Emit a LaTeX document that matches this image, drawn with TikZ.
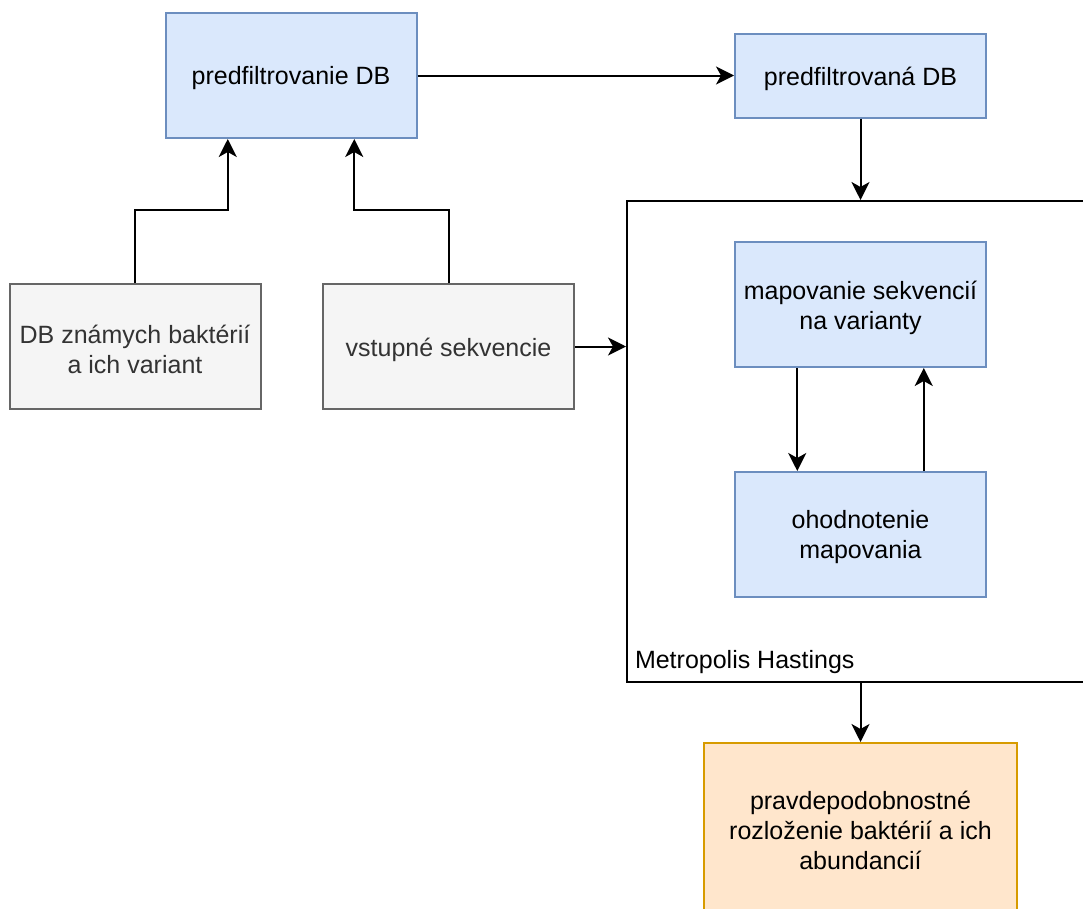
\documentclass[tikz,border=0pt]{standalone}
\usepackage{fontspec}
\setmainfont{Liberation Sans}
\usetikzlibrary{arrows.meta,calc}
\definecolor{bfill}{HTML}{DAE8FC}
\definecolor{bline}{HTML}{6C8EBF}
\definecolor{gfill}{HTML}{F5F5F5}
\definecolor{gline}{HTML}{666666}
\definecolor{gtext}{HTML}{333333}
\definecolor{ofill}{HTML}{FFE6CC}
\definecolor{oline}{HTML}{D79B00}
\tikzset{
  base/.style={rectangle, inner sep=0pt, line width=2pt, align=center,
    font=\fontsize{25}{30}\selectfont},
  txt/.style={align=center, inner sep=0pt, font=\fontsize{25}{30}\selectfont, yshift=-3pt},
  bluebox/.style={base, draw=bline, fill=bfill, minimum width=251pt, minimum height=125pt},
  graybox/.style={base, draw=gline, fill=gfill, text=gtext, minimum width=251pt, minimum height=125pt},
  orangebox/.style={base, draw=oline, fill=ofill, minimum width=313pt, minimum height=174pt},
  arr/.style={line width=2pt, -{Stealth[length=18pt,width=18pt,inset=5pt]}}
}
\begin{document}
\begin{tikzpicture}[x=1pt,y=-1pt]
\clip (0,0) rectangle (1083,908);
\fill[white] (0,0) rectangle (1083,908);
\node[bluebox, label={[txt]center:predfiltrovanie DB}] (pf) at (291,75.5) {};
\node[bluebox, minimum height=84pt, label={[txt]center:predfiltrovaná DB}] (pfd) at (860.5,75.5) {};
\node[graybox, label={[txt, text=gtext]center:{DB známych baktérií\\a ich variant}}] (db) at (135,346.5) {};
\node[graybox, label={[txt, text=gtext]center:vstupné sekvencie}] (vs) at (448.5,346.5) {};
\node[rectangle, draw, line width=2pt, minimum width=480pt, minimum height=481pt,
  anchor=north west, inner sep=0pt] (mh) at (626,200) {};
\node[base, anchor=west] (mhl) at (634,662) {Metropolis Hastings};
\node[bluebox, label={[txt]center:{mapovanie sekvencií\\na varianty}}] (map) at (860.5,304.5) {};
\node[bluebox, label={[txt]center:{ohodnotenie\\mapovania}}] (oh) at (860.5,534.5) {};
\node[orangebox] (res) at (860.5,830) {pravdepodobnostné\\rozloženie baktérií a ich\\abundancií};

\draw[arr] (db.north) -- ++(0,-73) -| ($(pf.south west)!0.25!(pf.south east)$);
\draw[arr] (vs.north) -- ++(0,-73) -| ($(pf.south west)!0.75!(pf.south east)$);
\draw[arr] (pf.east) -- (pf.east -| pfd.west);
\draw[arr] (pfd.south) -- (pfd.south |- mh.north);
\draw[arr] (vs.east) -- (vs.east -| mh.west);
\draw[arr] ($(map.south west)!0.25!(map.south east)$) -- ($(oh.north west)!0.25!(oh.north east)$);
\draw[arr] ($(oh.north west)!0.75!(oh.north east)$) -- ($(map.south west)!0.75!(map.south east)$);
\draw[arr] (res.north |- mh.south) -- (res.north);
\end{tikzpicture}
\end{document}
